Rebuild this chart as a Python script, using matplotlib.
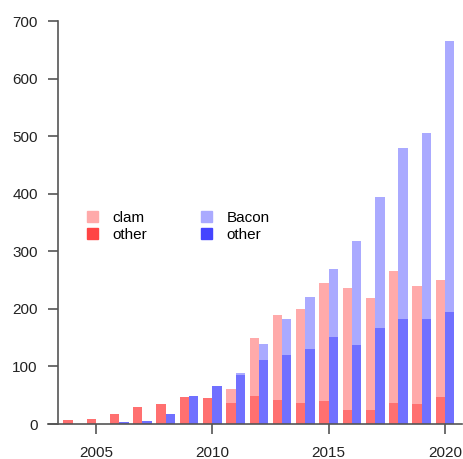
import matplotlib.pyplot as plt
from matplotlib.patches import Patch

plt.rcParams['font.family'] = ['Liberation Sans', 'DejaVu Sans']

years = list(range(2004, 2021))
clam_total = [7, 9, 17, 29, 35, 47, 45, 61, 149, 189, 200, 245, 237, 219, 265, 240, 250]
clam_other = [7, 9, 17, 29, 35, 47, 45, 36, 49, 42, 36, 40, 25, 24, 37, 34, 47]
bacon_total = [0, 0, 3, 5, 18, 49, 66, 88, 139, 182, 220, 270, 318, 394, 480, 505, 666]
bacon_other = [0, 0, 3, 5, 18, 49, 66, 85, 112, 120, 131, 151, 138, 166, 182, 182, 194]
xticks = [2005, 2010, 2015, 2020]
yticks = [0, 100, 200, 300, 400, 500, 600, 700]

W, H = 463, 459
fig = plt.figure(figsize=(W / 100, H / 100), dpi=100)
ax = fig.add_axes([48 / W, 35 / H, (462 - 48) / W, 414.5 / H])

w = 0.4
ax.bar(years, clam_total, width=-w, align='edge', color='#ffaaaa', edgecolor='none')
ax.bar(years, clam_other, width=-w, align='edge', color='#ff7070', edgecolor='none')
ax.bar(years, bacon_total, width=w, align='edge', color='#aaaaff', edgecolor='none')
ax.bar(years, bacon_other, width=w, align='edge', color='#7070ff', edgecolor='none')

ax.set_xlim(2002.94, 2020.73)
ax.set_ylim(0, 720)
for s in ['top', 'right']:
    ax.spines[s].set_visible(False)
ax.spines['left'].set_position(('data', 2003.35))
ax.spines['left'].set_bounds(0, 700)
for s in ['left', 'bottom']:
    ax.spines[s].set_color('#555555')
    ax.spines[s].set_linewidth(1.2)
ax.set_xticks(xticks)
ax.set_yticks(yticks)
ax.tick_params(length=7.2, width=1.2, color='#555555', labelsize=11,
               labelcolor='#222222')
ax.tick_params(axis='y', pad=7)
ax.tick_params(axis='x', pad=8.5)

handles = [Patch(color='#ffaaaa'), Patch(color='#ff4444'),
           Patch(color='#aaaaff'), Patch(color='#4444ff')]
labels = ['clam', 'other', 'Bacon', 'other']
ax.legend(handles, labels, ncol=2, frameon=False, fontsize=11,
          loc='upper left', bbox_to_anchor=(79 / W, 1 - 203 / H),
          bbox_transform=fig.transFigure, borderpad=0,
          handlelength=0.75, handleheight=0.75, handletextpad=0.95,
          columnspacing=3.5, labelspacing=0.2)

fig.savefig('out.png', dpi=100)
